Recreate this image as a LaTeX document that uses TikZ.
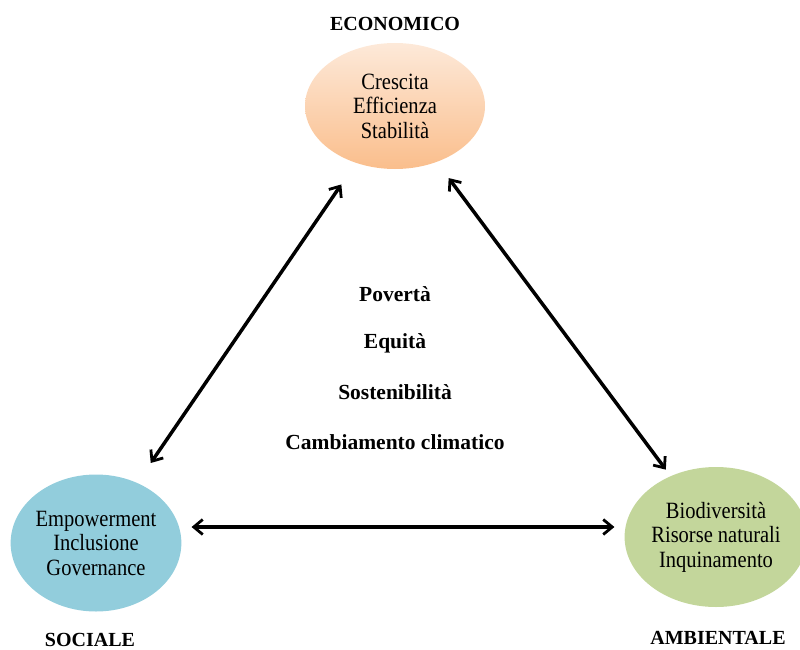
\documentclass[tikz,border=0pt]{standalone}
\usepackage{fontspec}
\setmainfont{Liberation Serif}
\newfontfamily\pillarfont[FakeStretch=0.88]{Liberation Serif}
\usetikzlibrary{arrows.meta}
\usetikzlibrary{positioning}
\usetikzlibrary{shapes.geometric}

\definecolor{ecotop}{RGB}{253,233,217}
\definecolor{ecobot}{RGB}{250,190,140}
\definecolor{socfill}{RGB}{146,205,220}
\definecolor{ambfill}{RGB}{195,214,155}

\begin{document}
\begin{tikzpicture}[x=1pt,y=-1pt,
  pillar/.style={ellipse,minimum width=#1,align=center,
    font=\pillarfont\fontsize{23.3}{24.5}\selectfont,inner sep=0pt},
  title/.style={font=\fontsize{20}{24}\selectfont\bfseries},
  theme/.style={font=\fontsize{21.5}{24}\selectfont\bfseries},
  link/.style={{Straight Barb[length=9pt,width=15pt,line width=2.8pt]}-{Straight Barb[length=9pt,width=15pt,line width=2.8pt]},
    line width=3.5pt}]
  \useasboundingbox (0,0) rectangle (800,650);
  % the three pillars
  \node[pillar=180pt,minimum height=126pt,top color=ecotop,bottom color=ecobot]
    (eco) at (395,106) {Crescita\\Efficienza\\Stabilità};
  \node[pillar=168pt,minimum height=137pt,fill=socfill]
    (soc) at (96,543) {Empowerment\\Inclusione\\Governance};
  \node[pillar=168pt,minimum height=140pt,fill=ambfill]
    (amb) at (716,537) {Biodiversità\\Risorse naturali\\Inquinamento};
  % labels
  \node[title] (ecolabel) at (395,24) {ECONOMICO};
  \node[title] (soclabel) at (90,640) {SOCIALE};
  \node[title] (amblabel) at (718,638) {AMBIENTALE};
  % themes in the middle
  \node[theme] (poverta) at (395,294) {Povertà};
  \node[theme] (equita) at (395,343) {Equità};
  \node[theme] (sosten) at (395,392) {Sostenibilità};
  \node[theme] (clima) at (395,442) {Cambiamento climatico};
  % links
  \draw[link,shorten <=24pt,shorten >=26pt] (soc) -- (eco);
  \draw[link,shorten <=20pt,shorten >=8pt] (eco) -- (amb);
  \draw[link,shorten <=10pt,shorten >=10pt] ([yshift=16pt]soc.east) -- ([yshift=10pt]amb.west);
\end{tikzpicture}
\end{document}
